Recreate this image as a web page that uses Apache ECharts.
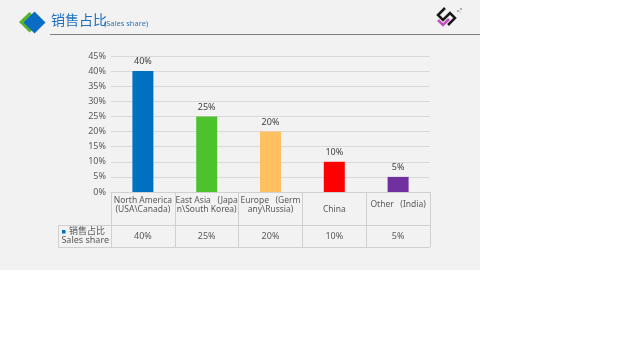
<!DOCTYPE html>
<html>
<head>
<meta charset="utf-8">
<script src="https://cdn.jsdelivr.net/npm/echarts@6/dist/echarts.min.js"></script>
<style>
html,body{margin:0;padding:0;background:#ffffff;width:640px;height:360px;overflow:hidden;}
#c{position:absolute;left:0;top:0;width:480px;height:270px;}
</style>
</head>
<body>
<div id="c"></div>
<script>
var categories = ["North America\n(USA\\Canada)", "East Asia   (Japa\nn\\South Korea)", "Europe   (Germ\nany\\Russia)", "\nChina", "Other   (India)"];
var values = [40, 25, 20, 10, 5];
var barColors = ["#0070c0", "#4cc32c", "#ffc061", "#ff0000", "#7030a0"];
var yTicks = [0, 5, 10, 15, 20, 25, 30, 35, 40, 45];
var seriesName = "销售占比";
var seriesNameEn = "Sales share";
var titleZh = "销售占比";
var titleEn = "(Sales share)";

var FONT = "'Noto Sans', 'Noto Sans CJK SC', sans-serif";
var chart = echarts.init(document.getElementById('c'));
var valueLabels = values.map(function (v) { return v + '%'; });

chart.setOption({
  backgroundColor: '#f2f2f2',
  animation: false,
  textStyle: { fontFamily: FONT },
  grid: { left: 111, right: 50, top: 56, bottom: 78 },
  xAxis: [{
    type: 'category',
    data: categories,
    axisLine: { show: true, lineStyle: { color: '#d0d0d0', width: 1 } },
    axisTick: { show: true, interval: 0, length: 55, lineStyle: { color: '#d0d0d0' } },
    axisLabel: {
      interval: 0, margin: 4, color: '#595959', fontSize: 8.5, lineHeight: 9,
      fontFamily: FONT,
      formatter: function (v) {
        if (v.indexOf('\n') < 0) return '{o|' + v + '}';
        return v;
      },
      rich: { o: { lineHeight: 18, fontSize: 8.5, color: '#595959', fontFamily: FONT } }
    }
  }, {
    type: 'category',
    position: 'bottom',
    offset: 39,
    data: valueLabels,
    axisLine: { show: false },
    axisTick: { show: false },
    axisLabel: { interval: 0, margin: 0, color: '#595959', fontSize: 9, lineHeight: 11, fontFamily: FONT }
  }],
  yAxis: {
    type: 'value',
    min: yTicks[0],
    max: yTicks[yTicks.length - 1],
    interval: yTicks[1] - yTicks[0],
    axisLine: { show: false },
    axisTick: { show: false },
    splitLine: { lineStyle: { color: '#d9d9d9', width: 1 } },
    axisLabel: { formatter: '{value}%', color: '#595959', fontSize: 9, margin: 5, fontFamily: FONT }
  },
  series: [{
    name: seriesName,
    type: 'bar',
    barWidth: 21,
    data: values.map(function (v, i) { return { value: v, itemStyle: { color: barColors[i] } }; }),
    label: { show: true, position: 'top', distance: 5, formatter: '{c}%', color: '#404040', fontSize: 9, fontFamily: FONT }
  }],
  graphic: [
    // header icon
    { type: 'polygon', shape: { points: [[19, 22], [29.5, 12], [40, 22], [29.5, 32.5]] }, style: { fill: '#5bb42e' } },
    { type: 'polygon', shape: { points: [[23.5, 22.5], [34.5, 11.5], [45.5, 22.5], [34.5, 33.5]] }, style: { fill: '#0a6cc4' } },
    // title
    { type: 'text', left: 51, top: 13, style: { text: titleZh, fill: '#1f6fc0', font: "14px 'Noto Sans CJK SC', sans-serif" } },
    { type: 'text', left: 104, top: 20, style: { text: titleEn, fill: '#2e75b6', font: "7.5px 'Noto Sans', sans-serif" } },
    { type: 'line', shape: { x1: 50, y1: 34.5, x2: 480, y2: 34.5 }, style: { stroke: '#808080', lineWidth: 1 } },
    // logo
    { type: 'polyline', shape: { points: [[445, 8], [438, 15], [443, 20], [450, 13], [455, 18], [448, 25]] }, style: { stroke: '#1a1a1a', lineWidth: 2.5, fill: null } },
    { type: 'polyline', shape: { points: [[438, 20], [443, 25], [449, 19]] }, style: { stroke: '#c04fc0', lineWidth: 2.5, fill: null } },
    { type: 'circle', shape: { cx: 458, cy: 11, r: 0.8 }, style: { fill: '#555' } },
    { type: 'circle', shape: { cx: 461, cy: 9, r: 0.8 }, style: { fill: '#555' } },
    { type: 'circle', shape: { cx: 460, cy: 12, r: 0.6 }, style: { fill: '#999' } },
    // table lines
    { type: 'line', shape: { x1: 58, y1: 225.5, x2: 430, y2: 225.5 }, style: { stroke: '#d0d0d0', lineWidth: 1 } },
    { type: 'line', shape: { x1: 58, y1: 247.5, x2: 430, y2: 247.5 }, style: { stroke: '#d0d0d0', lineWidth: 1 } },
    { type: 'line', shape: { x1: 58.5, y1: 225.5, x2: 58.5, y2: 247.5 }, style: { stroke: '#d0d0d0', lineWidth: 1 } },
    // legend cell
    { type: 'rect', shape: { x: 62, y: 230, width: 3.5, height: 3.5 }, style: { fill: barColors[0] } },
    { type: 'text', left: 69, top: 226, style: { text: seriesName, fill: '#595959', font: "9px 'Noto Sans CJK SC', sans-serif" } },
    { type: 'text', right: 371, top: 236, style: { text: seriesNameEn, fill: '#595959', font: "9px 'Noto Sans', sans-serif" } }
  ]
});
</script>
</body>
</html>
